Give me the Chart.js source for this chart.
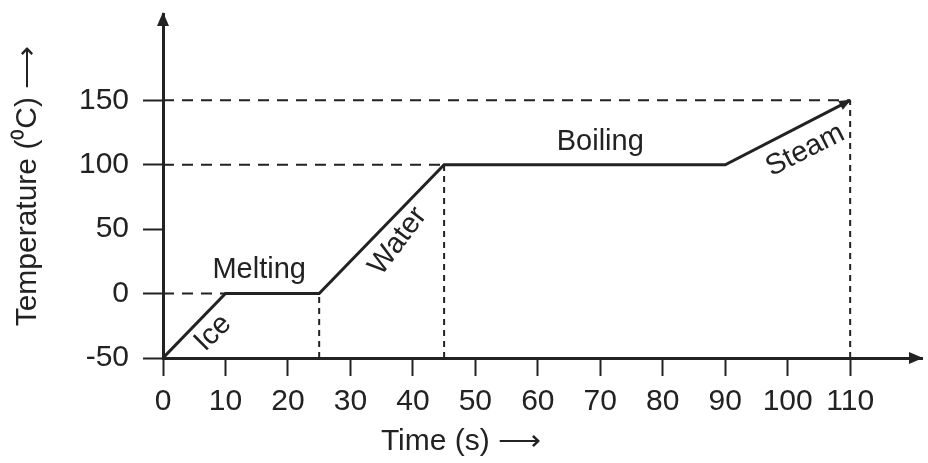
<!DOCTYPE html>
<html>
<head>
<meta charset="utf-8">
<script src="https://cdn.jsdelivr.net/npm/chart.js@4/dist/chart.umd.min.js"></script>
<style>
html, body { margin: 0; padding: 0; background: #fff; }
#wrap { width: 928px; height: 463px; }
</style>
</head>
<body>
<div id="wrap"><canvas id="heating"></canvas></div>
<script>
// heating curve of water: corners of the curve
const timeS = [0, 10, 25, 45, 90, 110];
const tempC = [-50, 0, 0, 100, 100, 150];

const xTicks = [0, 10, 20, 30, 40, 50, 60, 70, 80, 90, 100, 110];
const yTicks = [-50, 0, 50, 100, 150];

// corners that get a dashed guide back to an axis
const hGuidePts = [1, 3, 5];
const vGuidePts = [2, 3, 5];

const phaseNames = ["Ice", "Melting", "Water", "Boiling", "Steam"];

const INK = "#222";
const FONT = "'Liberation Sans', Arial, sans-serif";

function head(ctx, x, y, ang, len, half) {
  ctx.save();
  ctx.translate(x, y);
  ctx.rotate(ang);
  ctx.beginPath();
  ctx.moveTo(0, 0);
  ctx.lineTo(-len, -half);
  ctx.lineTo(-len, half);
  ctx.closePath();
  ctx.fill();
  ctx.restore();
}

// axis arrows, arrow at the end of the curve, phase names
const decorations = {
  id: "decorations",
  afterDatasetsDraw(chart, args, opts) {
    const { ctx, chartArea: a, scales: { x, y } } = chart;
    ctx.save();
    ctx.fillStyle = INK;
    head(ctx, a.right + 1, a.bottom, 0, 14, 6);
    head(ctx, a.left, a.top - 2, -Math.PI / 2, 14, 6);

    const pts = chart.getDatasetMeta(0).data;
    const p = pts[pts.length - 1], q = pts[pts.length - 2];
    head(ctx, p.x + 1, p.y - 0.5, Math.atan2(p.y - q.y, p.x - q.x), 12, 5);

    ctx.font = "29px " + FONT;
    ctx.textAlign = "center";
    ctx.textBaseline = "middle";
    opts.notes.forEach((n, i) => {
      ctx.save();
      ctx.translate(x.getPixelForValue(n.t), y.getPixelForValue(n.T));
      ctx.rotate(n.angle * Math.PI / 180);
      ctx.fillText(phaseNames[i], 0, 0);
      ctx.restore();
    });
    ctx.restore();
  }
};

const datasets = [{
  data: timeS.map((t, i) => ({ x: t, y: tempC[i] })),
  borderColor: INK,
  borderWidth: 3,
  pointRadius: 0
}];

hGuidePts.forEach(i => datasets.push({
  data: [{ x: xTicks[0], y: tempC[i] }, { x: timeS[i], y: tempC[i] }],
  borderColor: INK,
  borderWidth: 2,
  borderDash: [11, 8],
  pointRadius: 0
}));

vGuidePts.forEach(i => datasets.push({
  data: [{ x: timeS[i], y: yTicks[0] }, { x: timeS[i], y: tempC[i] }],
  borderColor: INK,
  borderWidth: 2,
  borderDash: [6, 5],
  pointRadius: 0
}));

const tickFont = { family: FONT, size: 30 };

new Chart(document.getElementById("heating"), {
  type: "line",
  data: { datasets: datasets },
  plugins: [decorations],
  options: {
    responsive: true,
    maintainAspectRatio: false,
    animation: false,
    layout: { padding: { top: 14, right: 6, left: 0, bottom: 0 } },
    scales: {
      x: {
        type: "linear",
        min: 0,
        max: 121.5,
        afterBuildTicks: s => { s.ticks = xTicks.map(v => ({ value: v })); },
        afterFit: s => { s.height = 66; s.paddingLeft = 0; s.paddingRight = 0; },
        grid: { drawOnChartArea: false, tickLength: 18, tickWidth: 2, tickColor: INK },
        border: { color: INK, width: 3 },
        ticks: { color: INK, font: tickFont, padding: 8, autoSkip: false, maxRotation: 0 }
      },
      y: {
        type: "linear",
        min: -50,
        max: 217,
        afterBuildTicks: s => { s.ticks = yTicks.map(v => ({ value: v })); },
        afterFit: s => { s.width = 163; s.paddingTop = 0; s.paddingBottom = 0; },
        grid: { drawOnChartArea: false, tickLength: 20, tickWidth: 2, tickColor: INK },
        border: { color: INK, width: 3 },
        ticks: { color: INK, font: tickFont, padding: 14 },
        title: {
          display: true,
          text: "Temperature (\u2070C) \u27F6",
          color: INK,
          font: tickFont,
          padding: { top: 10, bottom: 0 }
        }
      }
    },
    plugins: {
      legend: { display: false },
      tooltip: { enabled: false },
      title: {
        display: true,
        position: "bottom",
        text: "Time (s) \u27F6",
        color: INK,
        font: { family: FONT, size: 30, weight: "normal" },
        padding: { top: 0, bottom: 3 }
      },
      decorations: {
        notes: [
          { t: 8, T: -30.6, angle: -45 },
          { t: 15.4, T: 18.2, angle: 0 },
          { t: 37.6, T: 40.7, angle: -53 },
          { t: 70, T: 117.4, angle: 0 },
          { t: 102.8, T: 111.2, angle: -27 }
        ]
      }
    }
  }
});
</script>
</body>
</html>
